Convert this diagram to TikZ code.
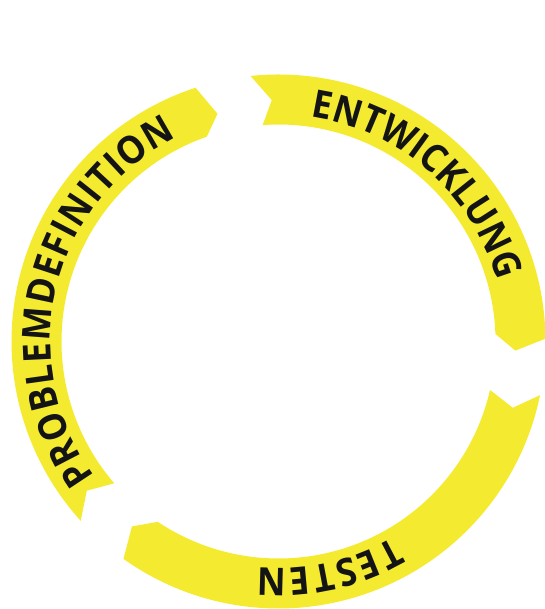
\documentclass[tikz,border=0pt]{standalone}
\usepackage{fontspec}
\newfontfamily\labfont{Open Sans}[FakeStretch=0.92]
\usetikzlibrary{decorations.text}
\definecolor{ringyellow}{RGB}{244,235,49}
\definecolor{labelink}{RGB}{20,20,20}
\tikzset{
  band/.style={fill=ringyellow, draw=none},
  ringtext/.style={decorate, decoration={text along path, text align={fit to path}, text color=labelink, raise=0pt}}
}
\newcommand{\lab}{|\labfont\bfseries\fontsize{38.5pt}{40pt}\selectfont|}
\begin{document}
\begin{tikzpicture}[x=1pt,y=1pt]
\useasboundingbox (0,0) rectangle (544,609);
\coordinate (C) at (278.5,267.5);
\begin{scope}[shift={(C)}]
  % ENTWICKLUNG band
  \fill[band] (96.0:267) arc[start angle=96.0, end angle=0.6, radius=267] -- (-2.2:237) -- (2.0:217) arc[start angle=2.0, end angle=94.2, radius=217] -- (91.6:241.5) -- cycle;
  % TESTEN band
  \fill[band] (-11.6:267) arc[start angle=-11.6, end angle=-125.5, radius=267] -- (-128.4:236) -- (-123.8:217) arc[start angle=-123.8, end angle=-12.9, radius=217] -- (-15.8:243.5) -- cycle;
  % PROBLEMDEFINITION band
  \fill[band] (222.2:267) arc[start angle=222.2, end angle=108.1, radius=267] -- (105.0:235.7) -- (109.3:217) arc[start angle=109.3, end angle=220.8, radius=217] -- (217.9:243) -- cycle;
  % labels
  \path[ringtext, decoration={text={\lab ENTWICKLUNG}}] (81.8:227) arc[start angle=81.8, end angle=15.6, radius=227];
  \path[ringtext, decoration={text={\lab TESTEN}}] (-59.7:227) arc[start angle=-59.7, end angle=-95.2, radius=227];
  \path[ringtext, decoration={text={\lab PROBLEMDEFINITION}}] (216.3:228) arc[start angle=216.3, end angle=116.4, radius=228];
\end{scope}
\end{tikzpicture}
\end{document}
